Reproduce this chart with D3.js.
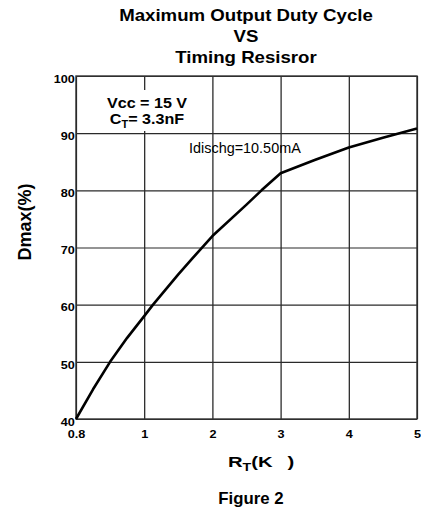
<!DOCTYPE html>
<html>
<head>
<meta charset="utf-8">
<script src="https://cdn.jsdelivr.net/npm/d3@7"></script>
<style>
  html, body { margin: 0; padding: 0; background: #fff; }
  svg { display: block; }
  text { font-family: "Liberation Sans", Arial, Helvetica, sans-serif; fill: #000; }
</style>
</head>
<body>
<script>
// ---- data ----
const xTicks = [0.8, 1, 2, 3, 4, 5];
const xTickLabels = ["0.8", "1", "2", "3", "4", "5"];
const yTicks = [40, 50, 60, 70, 80, 90, 100];
const rt = [0.8, 0.85, 0.9, 0.95, 1, 1.13, 1.5, 1.7, 2, 2.5, 2.72, 3, 3.5, 4, 4.5, 5];
const dmax = [40, 45.2, 50, 54.2, 58, 60, 65.3, 68, 72, 77.5, 80, 83, 85.3, 87.5, 89.2, 90.8];
const titleLines = ["Maximum Output Duty Cycle", "VS", "Timing Resisror"];

// ---- layout ----
const W = 421, H = 511;
const pL = 76, pR = 417, pT = 76, pB = 419;

const svg = d3.select("body").append("svg").attr("width", W).attr("height", H);

const step = (pR - pL) / (xTicks.length - 1);
const x = d3.scaleLinear().domain(xTicks).range(xTicks.map((d, i) => pL + i * step));
const y = d3.scaleLinear().domain([40, 100]).range([pB, pT]);

// gridlines via axes
const gx = svg.append("g").attr("transform", `translate(0,${pB})`)
  .call(d3.axisBottom(x).tickValues(xTicks).tickSize(-(pB - pT)).tickFormat((d, i) => xTickLabels[i]));
gx.select(".domain").remove();
gx.selectAll(".tick line").attr("stroke", "#1a1a1a").attr("stroke-width", 1.2);
gx.selectAll(".tick text").attr("y", 11).attr("dy", "0.71em")
  .attr("transform", "scale(1.1,1)")
  .style("font-size", "11.5px").style("font-weight", "bold").attr("fill", "#000");

const gy = svg.append("g").attr("transform", `translate(${pL},0)`)
  .call(d3.axisLeft(y).tickValues(yTicks).tickSize(-(pR - pL)).tickFormat(d3.format("d")));
gy.select(".domain").remove();
gy.selectAll(".tick line").attr("stroke", "#2a2a2a").attr("stroke-width", 1.2);
gy.selectAll(".tick text").attr("x", -1).attr("dy", "0.55em")
  .attr("transform", "scale(1.1,1)")
  .style("font-size", "11.5px").style("font-weight", "bold").attr("fill", "#000");

// frame
svg.append("rect").attr("x", pL).attr("y", pT).attr("width", pR - pL).attr("height", pB - pT)
  .attr("fill", "none").attr("stroke", "#333").attr("stroke-width", 1.4);

// white box behind condition text
svg.append("rect").attr("x", 100).attr("y", 90).attr("width", 96).attr("height", 41).attr("fill", "#fff");

// curve
const line = d3.line().x((d, i) => x(rt[i])).y(d => y(d)).curve(d3.curveLinear);
svg.append("path").datum(dmax).attr("d", line)
  .attr("fill", "none").attr("stroke", "#000").attr("stroke-width", 2.6).attr("stroke-linejoin", "round");

// helper for horizontally stretched text
function stext(px, py, sx, anchor, size, weight) {
  return svg.append("g").attr("transform", `translate(${px},${py}) scale(${sx},1)`)
    .append("text").attr("text-anchor", anchor)
    .style("font-size", size + "px").style("font-weight", weight);
}

// title
titleLines.forEach((t, i) => {
  stext(246, 21 + i * 21, 1.13, "middle", 16.5, "bold").text(t);
});

// annotations
stext(147, 108, 1.04, "middle", 15.5, "bold").text("Vcc = 15 V");
const ct = stext(147, 124, 1.04, "middle", 15.5, "bold");
ct.append("tspan").text("C");
ct.append("tspan").attr("dy", 4).style("font-size", "10.5px").text("T");
ct.append("tspan").attr("dy", -4).text("= 3.3nF");

stext(189, 153, 1.03, "start", 14, "normal").text("Idischg=10.50mA");

// y axis title
svg.append("text").attr("transform", "translate(31,222) rotate(-90)")
  .attr("text-anchor", "middle").style("font-size", "18px").style("font-weight", "bold")
  .text("Dmax(%)");

// x axis title
const xt = stext(228, 467, 1.35, "start", 15, "bold");
xt.append("tspan").text("R");
xt.append("tspan").attr("dy", 4).style("font-size", "10.5px").text("T");
xt.append("tspan").attr("dy", -4).text("(K");
xt.append("tspan").attr("dx", 11).text(")");

stext(251, 504, 1.05, "middle", 16, "bold").text("Figure 2");
</script>
</body>
</html>
